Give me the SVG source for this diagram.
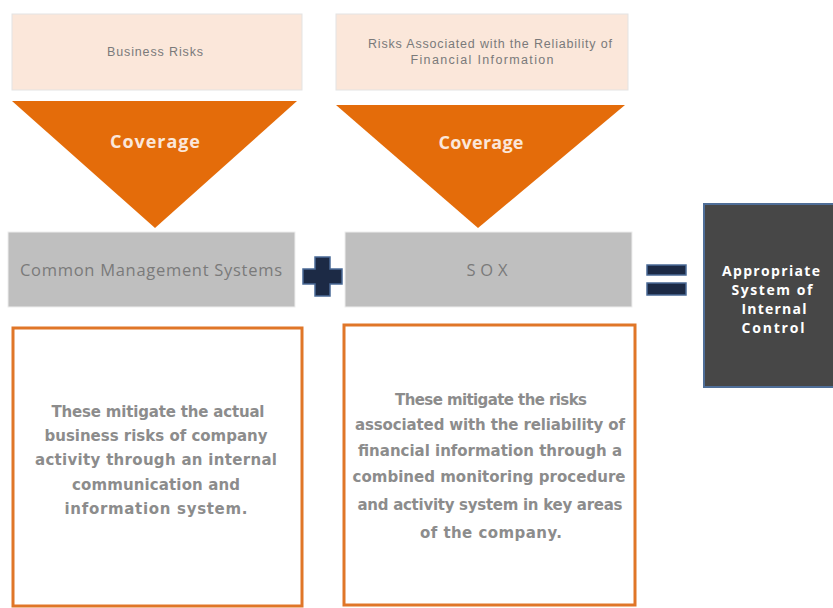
<svg xmlns="http://www.w3.org/2000/svg" width="833" height="608" viewBox="0 0 833 608">
<style>
.risk{fill:#fbe7da;stroke:#e3e3e3;stroke-width:1}
.rt{font-family:"Liberation Sans",Arial,sans-serif;font-size:12.5px;fill:#7a7a7a;text-anchor:middle}
.tri{fill:#e46c0a}
.cov{font-family:"Open Sans","Liberation Sans",sans-serif;font-size:18px;font-weight:bold;fill:#fbe7da;text-anchor:middle}
.gray{fill:#bfbfbf;stroke:#eeeeee;stroke-width:1}
.gt{font-family:"Open Sans","Liberation Sans",sans-serif;font-size:16.5px;fill:#7a7a7a;text-anchor:middle}
.ob{fill:#ffffff;stroke:#e07628;stroke-width:3}
.bt{font-family:"DejaVu Sans",Verdana,sans-serif;font-size:15px;font-weight:bold;fill:#8c8c8c;text-anchor:middle}
.op{fill:#1c2a45;stroke:#4a6a96;stroke-width:1.5}
.res{fill:#474747;stroke:#4f6e98;stroke-width:2}
.wt{font-family:"Open Sans","Liberation Sans",sans-serif;font-size:14px;font-weight:bold;fill:#ffffff;text-anchor:middle}
</style>
<rect width="833" height="608" fill="#ffffff"/>
<g id="business-risks">
<rect class="risk" x="12" y="14" width="290" height="76"/>
<text class="rt" x="155" y="56" textLength="96">Business Risks</text>
</g>
<g id="financial-risks">
<rect class="risk" x="336" y="14" width="292" height="76"/>
<text class="rt" x="490" y="48" textLength="244">Risks Associated with the Reliability of</text>
<text class="rt" x="482" y="64" textLength="143">Financial Information</text>
</g>
<g id="coverage-1">
<polygon class="tri" points="12,101 297,101 155,228"/>
<text class="cov" x="155" y="148" textLength="90">Coverage</text>
</g>
<g id="coverage-2">
<polygon class="tri" points="336,105 625,105 478,228"/>
<text class="cov" x="481" y="149" textLength="85">Coverage</text>
</g>
<g id="common-management">
<rect class="gray" x="8" y="232" width="287" height="75"/>
<text class="gt" x="151" y="276" textLength="262">Common Management Systems</text>
</g>
<g id="sox">
<rect class="gray" x="345" y="232" width="287" height="75"/>
<text class="gt" x="487" y="276" textLength="41">SOX</text>
</g>
<g id="plus">
<path class="op" d="M315,257 h15 v12 h12 v15 h-12 v12 h-15 v-12 h-12 v-15 h12 z"/>
</g>
<g id="equals">
<rect class="op" x="647" y="265" width="39" height="10"/>
<rect class="op" x="647" y="283" width="39" height="12"/>
</g>
<g id="internal-control">
<rect class="res" x="704" y="204" width="131" height="183"/>
<text class="wt" x="771" y="276" textLength="98">Appropriate</text>
<text class="wt" x="772" y="295" textLength="81">System of</text>
<text class="wt" x="774" y="314" textLength="65">Internal</text>
<text class="wt" x="773" y="333" textLength="63">Control</text>
</g>
<g id="desc-1">
<rect class="ob" x="13" y="328" width="289" height="278"/>
<text class="bt" x="158" y="417" textLength="213">These mitigate the actual</text>
<text class="bt" x="156" y="441" textLength="223">business risks of company</text>
<text class="bt" x="156" y="465" textLength="242">activity through an internal</text>
<text class="bt" x="156" y="490" textLength="168">communication and</text>
<text class="bt" x="156" y="514" textLength="183">information system.</text>
</g>
<g id="desc-2">
<rect class="ob" x="344" y="325" width="291" height="280"/>
<text class="bt" x="491" y="405" textLength="192">These mitigate the risks</text>
<text class="bt" x="490" y="430" textLength="270">associated with the reliability of</text>
<text class="bt" x="490" y="456" textLength="264">financial information through a</text>
<text class="bt" x="489" y="482" textLength="273">combined monitoring procedure</text>
<text class="bt" x="490" y="510" textLength="265">and activity system in key areas</text>
<text class="bt" x="491" y="538" textLength="142">of the company.</text>
</g>
</svg>
